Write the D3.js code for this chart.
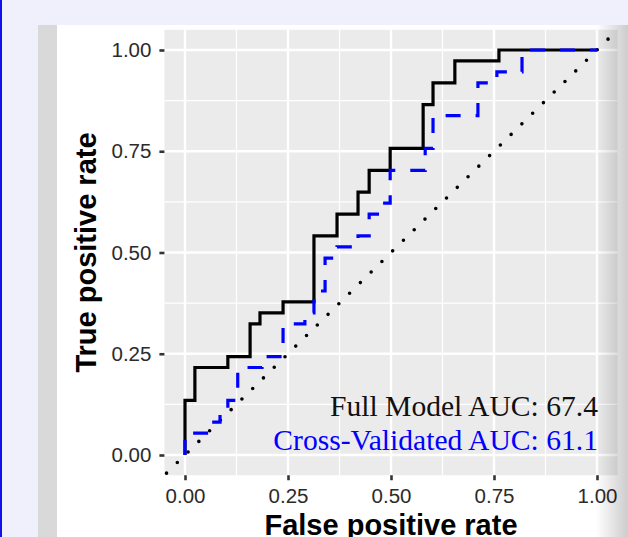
<!DOCTYPE html>
<html>
<head>
<meta charset="utf-8">
<script src="https://cdn.jsdelivr.net/npm/d3@7"></script>
<style>
  html, body { margin: 0; padding: 0; background: #eff0fc; }
  svg { display: block; }
</style>
</head>
<body>
<script>
// ---- data ----
const tickValues = [0, 0.25, 0.5, 0.75, 1];
const tickLabels = ["0.00", "0.25", "0.50", "0.75", "1.00"];

// Full model ROC (false positive rate, true positive rate) step corners
const fullFPR = [0, 0, 0.024, 0.104, 0.158, 0.182, 0.238, 0.313, 0.369, 0.420, 0.447, 0.498, 0.578, 0.602, 0.655, 0.762, 1];
const fullTPR = [0, 0.135, 0.216, 0.243, 0.324, 0.351, 0.378, 0.541, 0.595, 0.649, 0.703, 0.757, 0.865, 0.919, 0.973, 1, 1];

// Cross-validated ROC
const cvFPR = [0, 0, 0.061, 0.085, 0.104, 0.128, 0.187, 0.238, 0.291, 0.313, 0.340, 0.369, 0.420, 0.447, 0.478, 0.498, 0.583, 0.602, 0.711, 0.757, 0.818, 1];
const cvTPR = [0, 0.054, 0.081, 0.108, 0.135, 0.216, 0.243, 0.324, 0.351, 0.405, 0.486, 0.514, 0.541, 0.595, 0.622, 0.703, 0.757, 0.838, 0.919, 0.946, 1, 1];

const labels = ["Full Model AUC: 67.4", "Cross-Validated AUC: 61.1"];
const labelColors = ["#111111", "#0000ff"];
const axisTitles = ["False positive rate", "True positive rate"];

// ---- drawing ----
const W = 628, H = 537;
const svg = d3.select("body").append("svg").attr("width", W).attr("height", H);

// page decoration
svg.append("rect").attr("x", 0).attr("y", 0).attr("width", W).attr("height", H).attr("fill", "#eff0fc");
svg.append("rect").attr("x", 0).attr("y", 0).attr("width", 2).attr("height", H).attr("fill", "#1010e8");
svg.append("rect").attr("x", 38).attr("y", 25).attr("width", 19).attr("height", H - 25).attr("fill", "#d9d9d9");
svg.append("rect").attr("x", 57).attr("y", 25).attr("width", W - 57).attr("height", H - 25).attr("fill", "#ffffff");

const x = d3.scaleLinear().domain([-0.05, 1.05]).range([164.4, 617.6]);
const y = d3.scaleLinear().domain([-0.05, 1.05]).range([475.25, 29.75]);

// panel
svg.append("rect")
  .attr("x", x(-0.05)).attr("y", y(1.05))
  .attr("width", x(1.05) - x(-0.05)).attr("height", y(-0.05) - y(1.05))
  .attr("fill", "#ebebeb");

const minor = [0.125, 0.375, 0.625, 0.875];
const grid = svg.append("g");
minor.forEach(v => {
  grid.append("line").attr("x1", x(v)).attr("x2", x(v)).attr("y1", y(-0.05)).attr("y2", y(1.05))
    .attr("stroke", "#fff").attr("stroke-width", 1.2);
  grid.append("line").attr("y1", y(v)).attr("y2", y(v)).attr("x1", x(-0.05)).attr("x2", x(1.05))
    .attr("stroke", "#fff").attr("stroke-width", 1.2);
});
tickValues.forEach(v => {
  grid.append("line").attr("x1", x(v)).attr("x2", x(v)).attr("y1", y(-0.05)).attr("y2", y(1.05))
    .attr("stroke", "#fff").attr("stroke-width", 2.4);
  grid.append("line").attr("y1", y(v)).attr("y2", y(v)).attr("x1", x(-0.05)).attr("x2", x(1.05))
    .attr("stroke", "#fff").attr("stroke-width", 2.4);
});

// axes
const fmt = (d) => tickLabels[tickValues.indexOf(d)];
const xAxis = svg.append("g").attr("transform", `translate(0,${y(-0.05)})`)
  .call(d3.axisBottom(x).tickValues(tickValues).tickFormat(fmt).tickSize(5).tickPadding(8));
const yAxis = svg.append("g").attr("transform", `translate(${x(-0.05)},0)`)
  .call(d3.axisLeft(y).tickValues(tickValues).tickFormat(fmt).tickSize(5).tickPadding(8));
[xAxis, yAxis].forEach(a => {
  a.select(".domain").remove();
  a.selectAll(".tick line").attr("stroke", "#333").attr("stroke-width", 2.6);
  a.selectAll(".tick text").attr("fill", "#2b2b2b")
    .style("font-family", "'Liberation Sans', Arial, sans-serif").style("font-size", "20.5px");
});

// diagonal reference line
svg.append("line")
  .attr("x1", x(-0.05)).attr("y1", y(-0.05)).attr("x2", x(1.05)).attr("y2", y(1.05))
  .attr("stroke", "#000").attr("stroke-width", 3.6)
  .attr("stroke-linecap", "round").attr("stroke-dasharray", "0 15.1").attr("stroke-dashoffset", -3);

// curves
const line = d3.line().x(d => x(d[0])).y(d => y(d[1])).curve(d3.curveStepAfter);
svg.append("path").datum(d3.zip(fullFPR, fullTPR)).attr("d", line)
  .attr("fill", "none").attr("stroke", "#000").attr("stroke-width", 3.2);
svg.append("path").datum(d3.zip(cvFPR, cvTPR)).attr("d", line)
  .attr("fill", "none").attr("stroke", "#0000ff").attr("stroke-width", 3.2)
  .attr("stroke-dasharray", "15 15");

// annotations
labels.forEach((t, i) => {
  svg.append("text").attr("x", 598).attr("y", i === 0 ? 416 : 450)
    .attr("text-anchor", "end").attr("fill", labelColors[i])
    .style("font-family", "'Liberation Serif', 'Times New Roman', serif").style("font-size", "29.6px")
    .text(t);
});

// axis titles
svg.append("text").attr("x", x(0.5)).attr("y", 535).attr("text-anchor", "middle")
  .style("font-family", "'Liberation Sans', Arial, sans-serif").style("font-size", "29px")
  .style("font-weight", "bold").text(axisTitles[0]);
svg.append("text").attr("transform", `translate(96,${y(0.5)}) rotate(-90)`).attr("text-anchor", "middle")
  .style("font-family", "'Liberation Sans', Arial, sans-serif").style("font-size", "29px")
  .style("font-weight", "bold").text(axisTitles[1]);

// right-edge shadow
const defs = svg.append("defs");
const g = defs.append("linearGradient").attr("id", "shade").attr("x1", "0").attr("x2", "1").attr("y1", "0").attr("y2", "0");
g.append("stop").attr("offset", "0").attr("stop-color", "#000").attr("stop-opacity", 0);
g.append("stop").attr("offset", "1").attr("stop-color", "#000").attr("stop-opacity", 0.2);
svg.append("rect").attr("x", 596).attr("y", 25).attr("width", W - 596).attr("height", H - 25).attr("fill", "url(#shade)");
</script>
</body>
</html>
